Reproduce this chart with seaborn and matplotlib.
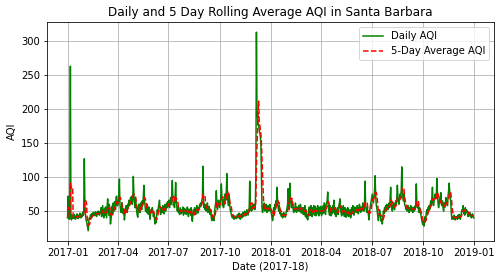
import matplotlib
matplotlib.use("Agg")
import matplotlib.pyplot as plt
import matplotlib.dates as mdates
import numpy as np
import pandas as pd
import seaborn as sns

# Daily AQI values, one list per month
aqi_2017_01 = [40, 72, 48, 38, 42, 263, 40, 37, 44, 40, 42, 39, 45, 41, 38, 43, 40, 46, 42, 39, 44, 41, 47, 43, 40, 45, 42, 48, 44, 50, 127]
aqi_2017_02 = [62, 45, 38, 35, 30, 26, 21, 34, 40, 38, 44, 42, 46, 41, 45, 48, 43, 47, 44, 49, 46, 42, 48, 45, 50, 47, 44, 49]
aqi_2017_03 = [47, 55, 42, 50, 58, 44, 40, 53, 44, 56, 48, 40, 58, 68, 50, 44, 60, 48, 31, 38, 50, 57, 46, 62, 50, 60, 64, 52, 70, 72, 58]
aqi_2017_04 = [58, 62, 75, 97, 60, 52, 48, 55, 62, 50, 46, 53, 37, 45, 50, 58, 52, 48, 60, 55, 66, 58, 62, 70, 65, 72, 60, 68, 101, 75]
aqi_2017_05 = [62, 55, 68, 58, 50, 44, 41, 52, 60, 55, 48, 62, 58, 52, 65, 60, 72, 88, 66, 58, 50, 55, 48, 60, 52, 45, 56, 50, 38, 46, 52]
aqi_2017_06 = [48, 55, 50, 42, 46, 38, 31, 40, 33, 45, 52, 48, 56, 60, 66, 52, 45, 50, 55, 48, 58, 52, 46, 54, 60, 50, 56, 62, 55, 64]
aqi_2017_07 = [58, 66, 55, 62, 70, 60, 72, 95, 68, 58, 62, 55, 70, 92, 65, 58, 50, 56, 48, 52, 45, 55, 50, 46, 52, 48, 56, 44, 50, 54, 47]
aqi_2017_08 = [52, 45, 50, 56, 48, 42, 53, 47, 50, 44, 55, 40, 35, 46, 52, 48, 55, 50, 45, 53, 58, 50, 47, 55, 52, 60, 56, 62, 58, 65, 70]
aqi_2017_09 = [116, 68, 55, 60, 52, 58, 50, 55, 62, 48, 53, 57, 50, 45, 52, 40, 36, 44, 38, 42, 36, 50, 58, 62, 80, 60, 52, 58, 66, 60]
aqi_2017_10 = [55, 62, 70, 90, 72, 58, 64, 55, 68, 60, 75, 66, 80, 105, 70, 62, 58, 75, 60, 52, 48, 45, 42, 40, 44, 41, 38, 43, 40, 42, 39]
aqi_2017_11 = [42, 45, 40, 44, 47, 41, 38, 43, 46, 40, 44, 48, 42, 45, 50, 46, 43, 48, 52, 47, 44, 50, 55, 94, 52, 58, 50, 56, 52, 60]
aqi_2017_12 = [55, 60, 52, 58, 100, 313, 200, 190, 180, 175, 170, 165, 160, 150, 100, 55, 48, 58, 52, 62, 50, 56, 60, 52, 48, 55, 58, 50, 54, 60, 52]
aqi_2018_01 = [50, 45, 40, 36, 42, 55, 48, 60, 52, 65, 58, 85, 62, 55, 50, 58, 46, 52, 44, 42, 46, 40, 44, 48, 42, 45, 41, 46, 50, 55, 60]
aqi_2018_02 = [83, 58, 52, 91, 70, 62, 55, 65, 58, 52, 48, 55, 50, 62, 53, 48, 56, 52, 50, 58, 54, 49, 60, 52, 47, 55, 50, 45]
aqi_2018_03 = [55, 45, 58, 42, 52, 40, 44, 37, 46, 52, 56, 43, 52, 58, 46, 42, 55, 47, 58, 44, 52, 57, 43, 53, 46, 58, 48, 43, 55, 46, 57]
aqi_2018_04 = [50, 43, 56, 46, 58, 48, 62, 52, 45, 58, 62, 66, 78, 56, 50, 44, 58, 48, 43, 55, 46, 58, 48, 66, 52, 45, 55, 42, 52, 45]
aqi_2018_05 = [55, 45, 58, 62, 68, 53, 47, 43, 55, 45, 58, 48, 42, 55, 46, 41, 53, 44, 55, 42, 50, 43, 52, 40, 43, 55, 46, 58, 48, 44, 56]
aqi_2018_06 = [50, 55, 48, 52, 58, 50, 46, 55, 60, 52, 48, 56, 50, 54, 62, 55, 50, 58, 94, 60, 52, 48, 55, 50, 45, 37, 48, 55, 60, 65]
aqi_2018_07 = [70, 75, 68, 62, 70, 80, 102, 75, 60, 55, 48, 42, 36, 45, 52, 48, 40, 35, 38, 31, 42, 50, 46, 55, 52, 58, 50, 60, 55, 52, 58]
aqi_2018_08 = [62, 55, 68, 85, 60, 55, 50, 58, 62, 55, 52, 60, 65, 58, 70, 88, 72, 65, 60, 68, 75, 70, 80, 115, 85, 70, 65, 75, 60, 58, 55]
aqi_2018_09 = [52, 56, 50, 58, 54, 48, 55, 52, 58, 50, 56, 53, 48, 55, 50, 57, 52, 60, 90, 62, 55, 60, 52, 48, 55, 50, 45, 40, 36, 32]
aqi_2018_10 = [30, 35, 28, 38, 42, 36, 48, 52, 45, 55, 50, 58, 52, 60, 65, 58, 70, 85, 62, 58, 65, 70, 75, 68, 72, 98, 75, 62, 55, 60, 68]
aqi_2018_11 = [65, 77, 60, 58, 65, 55, 50, 58, 62, 56, 70, 60, 65, 58, 72, 80, 91, 78, 70, 62, 45, 38, 42, 40, 38, 44, 40, 37, 42, 39]
aqi_2018_12 = [42, 38, 44, 40, 45, 41, 38, 43, 48, 52, 50, 58, 46, 52, 44, 55, 48, 52, 50, 45, 42, 47, 44, 48, 42, 45, 40, 44, 46, 42, 40]

months = [aqi_2017_01, aqi_2017_02, aqi_2017_03, aqi_2017_04, aqi_2017_05, aqi_2017_06,
          aqi_2017_07, aqi_2017_08, aqi_2017_09, aqi_2017_10, aqi_2017_11, aqi_2017_12,
          aqi_2018_01, aqi_2018_02, aqi_2018_03, aqi_2018_04, aqi_2018_05, aqi_2018_06,
          aqi_2018_07, aqi_2018_08, aqi_2018_09, aqi_2018_10, aqi_2018_11, aqi_2018_12]
expected = [31, 28, 31, 30, 31, 30, 31, 31, 30, 31, 30, 31] * 2
bad = [(i, len(m), e) for i, (m, e) in enumerate(zip(months, expected)) if len(m) != e]
if bad:
    raise ValueError(f"month length mismatch: {bad}")

daily = [v for m in months for v in m]
dates = pd.date_range("2017-01-01", periods=len(daily), freq="D")
df = pd.DataFrame({"Date": dates, "AQI": daily})
df["Rolling"] = df["AQI"].rolling(window=5, min_periods=1).mean()

fig = plt.figure(figsize=(502 / 72, 278 / 72), dpi=72)
ax = fig.add_axes([0.0942, 0.134, 0.984 - 0.0942, 0.92 - 0.134])

sns.lineplot(data=df, x="Date", y="AQI", ax=ax, color="green", linewidth=1.5, label="Daily AQI")
sns.lineplot(data=df, x="Date", y="Rolling", ax=ax, color="red", linewidth=1.5,
             linestyle="--", label="5-Day Average AQI")

ax.xaxis.set_major_locator(mdates.MonthLocator(bymonth=[1, 4, 7, 10]))
ax.xaxis.set_major_formatter(mdates.DateFormatter("%Y-%m"))
ax.set_title("Daily and 5 Day Rolling Average AQI in Santa Barbara", fontsize=12)
ax.set_xlabel("Date (2017-18)", fontsize=10)
ax.set_ylabel("AQI", fontsize=10)
ax.grid(True)
ax.legend(loc="upper right", fontsize=10)

fig.savefig("out.png", dpi=72)
